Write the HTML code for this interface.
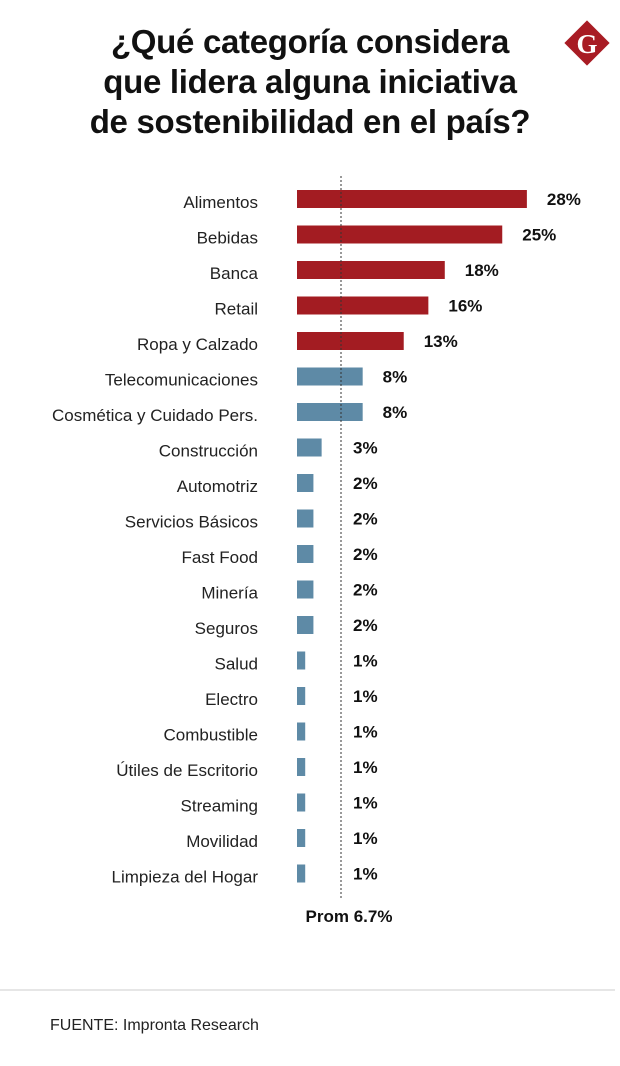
<!DOCTYPE html>
<html><head><meta charset="utf-8">
<style>
body{margin:0;background:#fff;width:620px;height:1066px;overflow:hidden;font-family:"Liberation Sans",sans-serif;}
#title{position:absolute;left:30px;width:560px;top:22px;text-align:center;font-weight:bold;font-size:33px;line-height:40px;color:#111;letter-spacing:-0.3px}
</style></head><body>
<div id="title">¿Qué categoría considera<br>que lidera alguna iniciativa<br>de sostenibilidad en el país?</div>
<svg width="620" height="1066" style="position:absolute;left:0;top:0">
<g>
<rect x="571" y="27" width="32" height="32" fill="#a81c24" transform="rotate(45 587 43)"/>
<text x="587" y="53" text-anchor="middle" font-family="Liberation Serif,serif" font-weight="bold" font-size="27" fill="#fff">G</text>
</g>
<g id="bars"></g>
<line x1="0" y1="990" x2="615" y2="990" stroke="#ccc" stroke-width="1"/>
<text x="50" y="1030" font-size="16" fill="#222">FUENTE: Impronta Research</text>
</svg>
<script>
const categories=["Alimentos","Bebidas","Banca","Retail","Ropa y Calzado","Telecomunicaciones","Cosmética y Cuidado Pers.","Construcción","Automotriz","Servicios Básicos","Fast Food","Minería","Seguros","Salud","Electro","Combustible","Útiles de Escritorio","Streaming","Movilidad","Limpieza del Hogar"];
const values=[28,25,18,16,13,8,8,3,2,2,2,2,2,1,1,1,1,1,1,1];
const average=6.7;
const avgLabel="Prom 6.7%";
const x0=297, k=8.21;
const xs=v=>x0+v*k;
const ys=i=>199+i*35.5;
const g=document.getElementById('bars');
const NS="http://www.w3.org/2000/svg";
function mk(t,a){const e=document.createElementNS(NS,t);for(const n in a)e.setAttribute(n,a[n]);return e;}
categories.forEach((c,i)=>{
  const y=ys(i),v=values[i];
  const lab=mk('text',{x:258,y:y+9,'text-anchor':'end','font-size':'17',fill:'#222'});
  lab.textContent=c;
  
  
  g.appendChild(lab);
  const r=mk('rect',{x:x0,y:y-9,width:xs(v)-x0,height:18,fill:v>=10?'#a31c22':'#5e8aa6'});
  
  
  g.appendChild(r);
  const vl=mk('text',{x:Math.max(xs(v)+20,353),y:y+6,'font-size':'17','font-weight':'bold',fill:'#111'});
  vl.textContent=v+'%';
  
  
  g.appendChild(vl);
});
const ax=341;
const ln=mk('line',{x1:ax,y1:176,x2:ax,y2:900,stroke:'#333','stroke-width':1,'stroke-dasharray':'2,2'});


g.appendChild(ln);
const al=mk('text',{x:ax+8,y:922,'text-anchor':'middle','font-size':'17','font-weight':'bold',fill:'#111'});
al.textContent=avgLabel;


g.appendChild(al);
</script>
</body></html>
